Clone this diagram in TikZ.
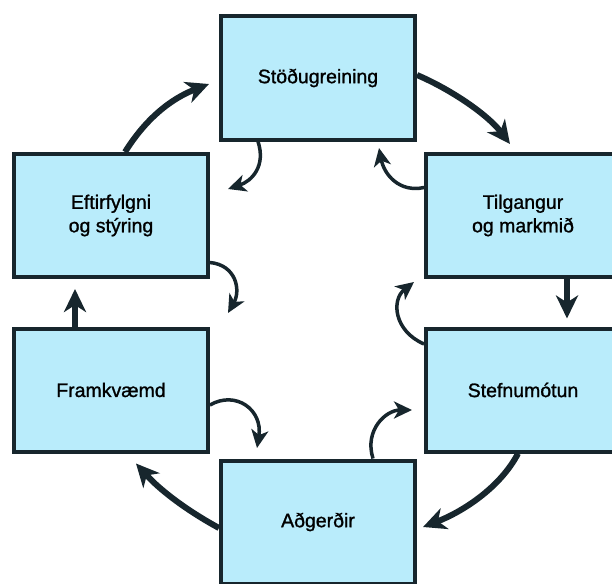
\documentclass[tikz,border=0pt]{standalone}
\usepackage{fontspec}
\setmainfont{Liberation Sans}
\newfontfamily\medfont{Liberation Sans}[UprightFeatures={FakeBold=1.2}]
\usetikzlibrary{arrows.meta,calc}
\definecolor{boxfill}{HTML}{B9ECFB}
\definecolor{ink}{HTML}{17262D}
\tikzset{
  stage/.style={draw=ink, fill=boxfill, line width=4pt, minimum width=194pt, minimum height=123pt,
    inner sep=0pt, align=center, font=\medfont\fontsize{19.5}{23.5}\selectfont, text=black},
  bigarrow/.style={draw=ink, line width=6pt, -{Stealth[length=23pt,width=22pt,inset=7pt]}},
  smallarrow/.style={draw=ink, line width=3.5pt, -{Stealth[length=18pt,width=17pt,inset=5pt]}},
}
\begin{document}
\begin{tikzpicture}[x=1pt,y=-1pt]
\useasboundingbox (0,0) rectangle (612,583);
\clip (0,0) rectangle (612,583);
\node[stage] (S)  at (318,78)    {Stöðugreining};
\node[stage] (E)  at (111,215.5) {Eftirfylgni\\og stýring};
\node[stage] (T)  at (523,215.5) {Tilgangur\\og markmið};
\node[stage] (F)  at (111,390)   {Framkvæmd};
\node[stage] (St) at (523,390)   {Stefnumótun};
\node[stage] (A)  at (318,522)   {Aðgerðir};

% outer cycle
\draw[bigarrow] ($(E.north)+(14,0)$) .. controls (150,112) and (178,96) .. ($(S.west)+(-10,6)$);
\draw[bigarrow] ($(S.east)+(0,-3)$) .. controls (452,90) and (488,115) .. ($(T.north)+(-13,-8)$);
\draw[bigarrow] ($(T.south)+(44,0)$) -- ($(St.north)+(44,-8)$);
\draw[bigarrow] ($(St.south)+(-5,0)$) .. controls (500,488) and (462,512) .. ($(A.east)+(6,5)$);
\draw[bigarrow] ($(A.west)+(0,6)$) .. controls (186,510) and (160,490) .. ($(F.south)+(25,10)$);
\draw[bigarrow] ($(F.north)+(-36,0)$) -- ($(E.south)+(-36,10)$);

% inner arrows
\coordinate (s1) at (228,189);
\coordinate (t1) at (379,148);
\coordinate (e1) at (228,313);
\coordinate (st1) at (414,282);
\coordinate (f1) at (257,448);
\coordinate (a1) at (412,410);
\draw[smallarrow] ($(S.south)+(-60,0)$) .. controls (266,166) and (252,181) .. (s1);
\draw[smallarrow] ($(T.west)+(0,-28)$) .. controls (399,193) and (384,174) .. (t1);
\draw[smallarrow] ($(E.east)+(0,47)$) .. controls (236,265) and (241,290) .. (e1);
\draw[smallarrow] ($(St.west)+(0,-46)$) .. controls (394,331) and (391,300) .. (st1);
\draw[smallarrow] ($(F.east)+(0,15)$) .. controls (236,390) and (263,410) .. (f1);
\draw[smallarrow] ($(A.north)+(55,0)$) .. controls (364,430) and (386,410) .. (a1);
\end{tikzpicture}
\end{document}
